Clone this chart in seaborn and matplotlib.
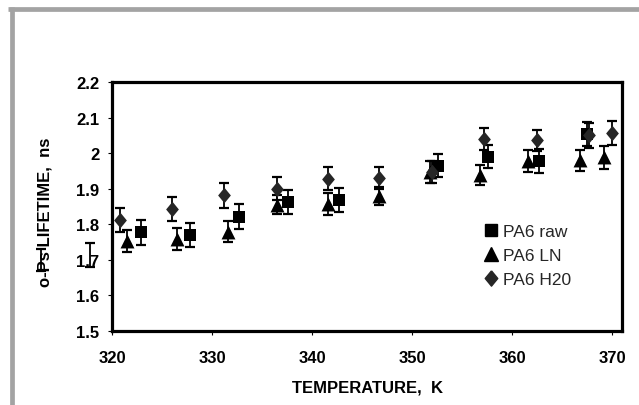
import numpy as np
import pandas as pd
import matplotlib
matplotlib.use("Agg")
import matplotlib.pyplot as plt
from matplotlib.lines import Line2D
import seaborn as sns

# ---- data ----
raw_T = [322.9, 327.8, 332.7, 337.6, 342.7, 352.6, 357.6, 362.7, 367.5]
raw_L = [1.777, 1.769, 1.821, 1.862, 1.868, 1.965, 1.990, 1.979, 2.053]
raw_E = [0.034, 0.034, 0.035, 0.033, 0.034, 0.032, 0.032, 0.034, 0.034]

ln_T = [321.5, 326.5, 331.6, 336.5, 341.6, 346.7, 351.8, 356.8, 361.6, 366.8, 369.2]
ln_L = [1.753, 1.759, 1.779, 1.855, 1.857, 1.880, 1.947, 1.938, 1.978, 1.980, 1.988]
ln_E = [0.030, 0.030, 0.030, 0.026, 0.030, 0.025, 0.030, 0.028, 0.030, 0.030, 0.032]

h2o_T = [320.8, 326.0, 331.2, 336.5, 341.6, 346.7, 352.0, 357.2, 362.5, 367.7, 370.0]
h2o_L = [1.811, 1.844, 1.881, 1.900, 1.928, 1.930, 1.947, 2.040, 2.036, 2.050, 2.057]
h2o_E = [0.034, 0.034, 0.035, 0.033, 0.033, 0.032, 0.030, 0.030, 0.030, 0.035, 0.034]

# stray error bars drawn outside the plot area in the original
stray_T = [317.8, 312.9]
stray_L = [1.714, 1.700]
stray_E = [0.034, 0.030]

series_names = ["PA6 raw", "PA6 LN", "PA6 H20"]
x_ticks = [320, 330, 340, 350, 360, 370]
y_ticks = [1.5, 1.6, 1.7, 1.8, 1.9, 2.0, 2.1, 2.2]
x_label = "TEMPERATURE,  K"
y_label = "o-Ps LIFETIME,  ns"

# ---- style ----
sns.set_theme(style="white")
plt.rcParams["font.family"] = ["Liberation Sans", "DejaVu Sans"]

fig = plt.figure(figsize=(6.39, 4.06), dpi=100)
ax = fig.add_axes([112/639, 1-332/406, 510/639, 249/406])

df = pd.DataFrame({
    "T": raw_T + ln_T + h2o_T,
    "L": raw_L + ln_L + h2o_L,
    "series": [series_names[0]]*len(raw_T) + [series_names[1]]*len(ln_T) + [series_names[2]]*len(h2o_T),
})

diamond = [(0, 1), (0.82, 0), (0, -1), (-0.82, 0), (0, 1)]
colors = {"PA6 raw": "black", "PA6 LN": "black", "PA6 H20": "#262626"}
markers = {"PA6 raw": "s", "PA6 LN": "^", "PA6 H20": diamond}
sizes = {"PA6 raw": 70, "PA6 LN": 100, "PA6 H20": 125}

err_kw = dict(fmt="none", ecolor="black", elinewidth=1.3, capsize=3.8, capthick=1.6, zorder=2)
for T, L, E in [(raw_T, raw_L, raw_E), (ln_T, ln_L, ln_E), (h2o_T, h2o_L, h2o_E)]:
    ax.errorbar(T, L, yerr=E, **err_kw)

for name in series_names:
    sub = df[df["series"] == name]
    sns.scatterplot(data=sub, x="T", y="L", ax=ax, marker=markers[name],
                    color=colors[name], s=sizes[name], linewidth=0, zorder=3, legend=False)

cont = ax.errorbar(stray_T, stray_L, yerr=stray_E, **err_kw)
for grp in (cont.lines[1], cont.lines[2]):
    for art in grp:
        art.set_clip_on(False)

ax.set_xlim(320, 371)
ax.set_ylim(1.5, 2.2)
ax.set_xticks(x_ticks)
ax.set_yticks(y_ticks)
ax.set_yticklabels([f"{v:g}" for v in y_ticks])
ax.tick_params(axis="both", which="major", direction="out", length=3, width=0.8,
               color="black", labelsize=12, labelcolor="black")
ax.tick_params(axis="x", pad=11, bottom=True)
ax.tick_params(axis="y", pad=6, left=True)
for lab in ax.get_xticklabels() + ax.get_yticklabels():
    lab.set_fontweight("bold")

for sp in ax.spines.values():
    sp.set_visible(True)
    sp.set_color("black")
    sp.set_linewidth(2.3)

ax.set_xlabel(x_label, fontsize=12, fontweight="bold", color="black")
ax.set_ylabel(y_label, fontsize=12, fontweight="bold", color="black")
ax.xaxis.set_label_coords(0.5, -(381 - 332) / 249)
ax.xaxis.label.set_va("top")
ax.yaxis.set_label_coords((53 - 112) / 510, 1 - (212.5 - 83) / 249)

handles = [
    Line2D([], [], linestyle="none", marker="s", color="black", markersize=8.4),
    Line2D([], [], linestyle="none", marker="^", color="black", markersize=10),
    Line2D([], [], linestyle="none", marker=diamond, color="#262626", markersize=11),
]
ax.legend(handles, series_names, loc="center left",
          bbox_to_anchor=((482 - 112) / 510, 1 - (256.5 - 83) / 249),
          frameon=False, fontsize=12.5, handlelength=1.0, handletextpad=0.2,
          labelspacing=0.5, borderpad=0, borderaxespad=0)

# grey outer frame (top and left edges)
fig.add_artist(Line2D([8/639, 1], [1 - 10/406, 1 - 10/406], color="#a3a3a3", linewidth=3.4,
                      solid_capstyle="butt"))
fig.add_artist(Line2D([11.5/639, 11.5/639], [0, 1 - 8/406], color="#a3a3a3", linewidth=3.4,
                      solid_capstyle="butt"))

fig.savefig("out.png", dpi=100, facecolor="white")
